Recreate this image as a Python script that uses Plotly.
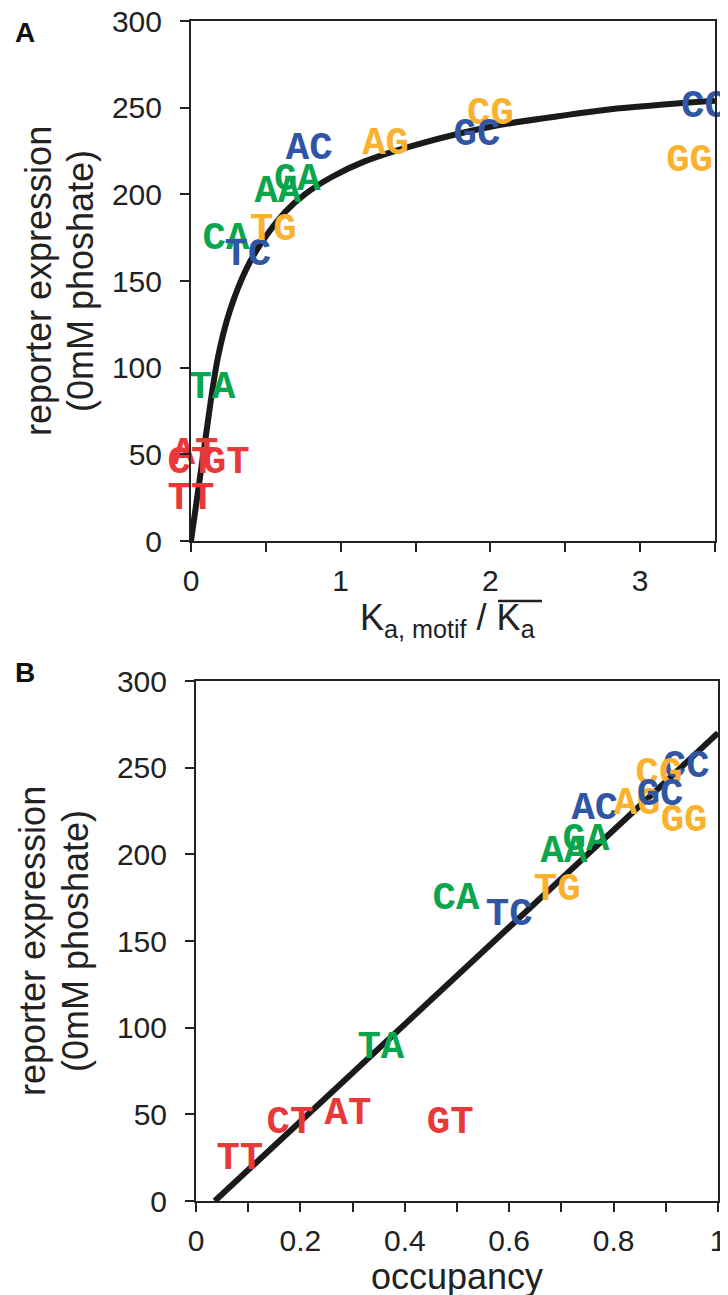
import plotly.graph_objects as go

W, H = 728, 1295

# ---- data ----
motifs = ["AA", "AC", "AG", "AT", "CA", "CC", "CG", "CT",
          "GA", "GC", "GG", "GT", "TA", "TC", "TG", "TT"]
expression = [201, 226, 229, 50, 174, 250, 246, 45,
              208, 234, 219, 45, 88, 165, 179, 24]
ka_ratio = [0.58, 0.79, 1.30, 0.027, 0.234, 3.43, 2.0, 0.0,
            0.71, 1.91, 3.33, 0.235, 0.14, 0.38, 0.55, 0.0]
occupancy = [0.705, 0.764, 0.845, 0.291, 0.498, 0.939, 0.887, 0.18,
             0.747, 0.889, 0.935, 0.487, 0.354, 0.60, 0.692, 0.084]

fit_a_x = [0, 0.09, 0.18, 0.26, 0.37, 0.47, 0.63, 0.76, 0.94,
           1.16, 1.52, 2.0, 2.45, 2.79, 3.5]
fit_a_y = [0, 55, 106, 133, 157, 172, 190, 200, 210,
           219, 229, 239, 245, 249, 254]
fit_b_x = [0.036, 1.0]
fit_b_y = [0, 270]

y_ticks = [0, 50, 100, 150, 200, 250, 300]
xa_ticks = [0, 0.5, 1, 1.5, 2, 2.5, 3, 3.5]
xa_ticktext = ["0", "", "1", "", "2", "", "3", ""]
xb_ticks = [0, 0.1, 0.2, 0.3, 0.4, 0.5, 0.6, 0.7, 0.8, 0.9, 1.0]
xb_ticktext = ["0", "", "0.2", "", "0.4", "", "0.6", "", "0.8", "", "1"]

base_colors = {"A": "#0aa64e", "C": "#2f55a4", "G": "#f9b12e", "T": "#e8383a"}
label_colors = [base_colors[m[1]] for m in motifs]

SANS = "Liberation Sans, Arial, Helvetica, sans-serif"
MONO = "Liberation Mono, Courier New, monospace"
TICK_SIZE = 30
TITLE_SIZE = 36
LABEL_SIZE = 39
TEXT_COLOR = "#222222"
CURVE_COLOR = "#1a1a1a"


def px_x(p):
    return p / W


def px_y(p):
    return 1 - p / H


fig = go.Figure()

label_font = dict(family=MONO, size=LABEL_SIZE, color=label_colors, weight="bold")

# Panel A
fig.add_trace(go.Scatter(x=fit_a_x, y=fit_a_y, mode="lines",
                         line=dict(color=CURVE_COLOR, width=6, shape="spline", smoothing=1.0),
                         xaxis="x", yaxis="y", showlegend=False, hoverinfo="skip"))
fig.add_trace(go.Scatter(x=ka_ratio, y=expression, mode="text", text=motifs,
                         textposition="middle center", textfont=label_font,
                         cliponaxis=False, xaxis="x", yaxis="y", showlegend=False))

# Panel B
fig.add_trace(go.Scatter(x=fit_b_x, y=fit_b_y, mode="lines",
                         line=dict(color=CURVE_COLOR, width=6),
                         xaxis="x2", yaxis="y2", showlegend=False, hoverinfo="skip"))
fig.add_trace(go.Scatter(x=occupancy, y=expression, mode="text", text=motifs,
                         textposition="middle center", textfont=label_font,
                         cliponaxis=False, xaxis="x2", yaxis="y2", showlegend=False))

axis_common = dict(showgrid=False, zeroline=False, showline=True, linecolor=TEXT_COLOR,
                   linewidth=2, mirror=True, ticks="outside", ticklen=9, tickwidth=2,
                   automargin=False, ticklabeloverflow="allow",
                   tickcolor=TEXT_COLOR, tickfont=dict(family=SANS, size=TICK_SIZE, color=TEXT_COLOR))

fig.update_layout(
    template="none",
    width=W, height=H, margin=dict(l=0, r=0, t=0, b=0, autoexpand=False),
    paper_bgcolor="white", plot_bgcolor="white",
    xaxis=dict(domain=[px_x(183), px_x(707)], range=[0, 3.5], anchor="y",
               tickmode="array", tickvals=xa_ticks, ticktext=xa_ticktext,
               ticklabelstandoff=3, **axis_common),
    yaxis=dict(domain=[px_y(533), px_y(13)], range=[0, 300], anchor="x",
               tickmode="array", tickvals=y_ticks, ticklabelstandoff=12, **axis_common),
    xaxis2=dict(domain=[px_x(188), px_x(710)], range=[0, 1], anchor="y2",
                tickmode="array", tickvals=xb_ticks, ticktext=xb_ticktext,
                ticklabelstandoff=3, **axis_common),
    yaxis2=dict(domain=[px_y(1193), px_y(673)], range=[0, 300], anchor="x2",
                tickmode="array", tickvals=y_ticks, ticklabelstandoff=12, **axis_common),
)


def note(text, x, y, size, angle=0, bold=False):
    return dict(text=text, x=px_x(x), y=px_y(y), xref="paper", yref="paper",
                xanchor="center", yanchor="middle", textangle=angle, showarrow=False,
                font=dict(family=SANS, size=size, color="#111111" if bold else TEXT_COLOR))


annotations = [
    note("<b>A</b>", 17, 25, 28, bold=True),
    note("<b>B</b>", 17, 664, 28, bold=True),
    note("reporter expression", 30, 273, TITLE_SIZE, angle=-90),
    note("(0mM phoshate)", 72, 273, TITLE_SIZE, angle=-90),
    note("reporter expression", 24, 933, TITLE_SIZE, angle=-90),
    note("(0mM phoshate)", 67, 933, TITLE_SIZE, angle=-90),
    note("K<sub>a, motif</sub> / K<sub>a</sub>", 440, 612, TITLE_SIZE),
    note("occupancy", 449, 1268, TITLE_SIZE),
]
fig.update_layout(annotations=annotations)

# overline on the second K_a
fig.add_shape(type="line", xref="paper", yref="paper",
              x0=px_x(490), x1=px_x(534), y0=px_y(593), y1=px_y(593),
              line=dict(color=TEXT_COLOR, width=2.5))

fig.write_html("out.html")
